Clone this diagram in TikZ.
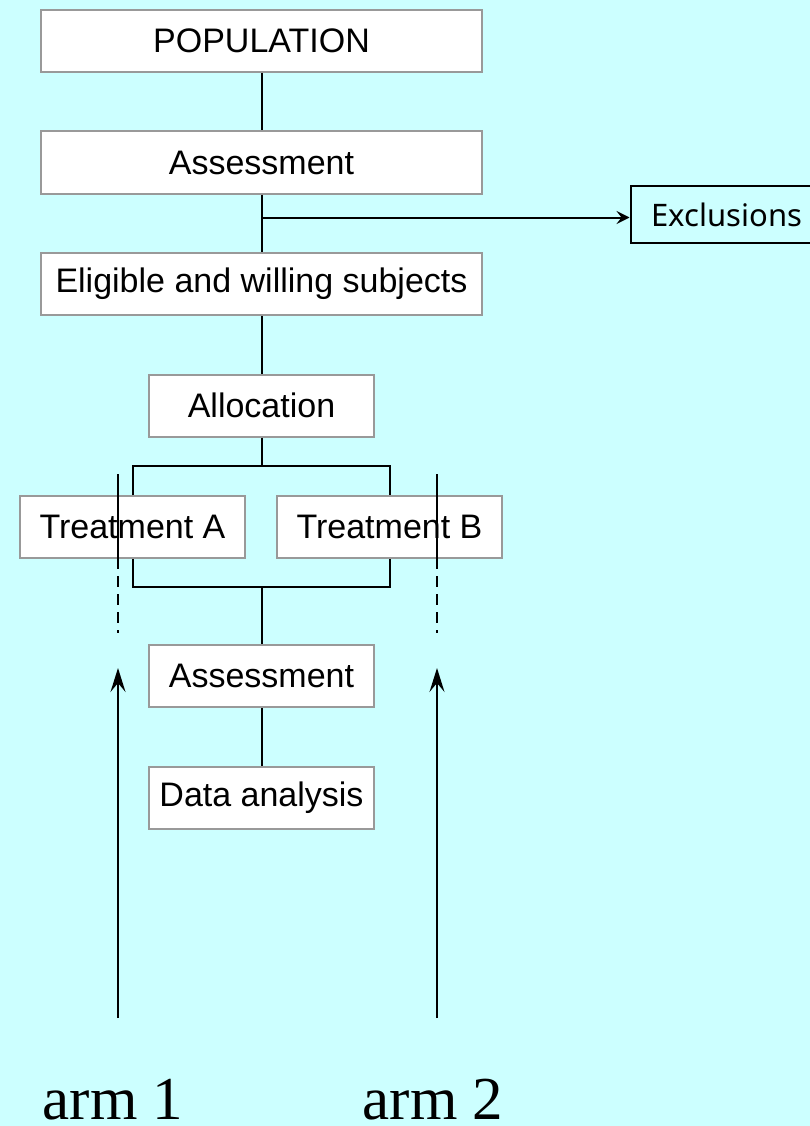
\documentclass[tikz,border=0pt]{standalone}
\usepackage{fontspec}
\setmainfont{Liberation Sans}
\newfontfamily\armfont{Liberation Serif}
\newfontfamily\exclfont{Noto Sans}
\usetikzlibrary{positioning, arrows.meta}
\definecolor{bgcyan}{RGB}{204,255,255}
\definecolor{boxgray}{RGB}{153,153,153}

\begin{document}
\begin{tikzpicture}[
        x=1pt, y=1pt,
        node distance=57.5pt and 30pt,
        every node/.style={font=\fontsize{34}{40}\selectfont},
        box/.style={draw=boxgray, fill=white, line width=2pt, rectangle, minimum height=62pt, minimum width=441pt, inner sep=0pt},
        smallbox/.style={box, minimum width=225pt},
        exclbox/.style={draw=black, line width=2pt, rectangle, minimum height=56pt, inner xsep=21pt, inner ysep=0pt, font=\exclfont\fontsize{31}{36}\selectfont},
        link/.style={line width=2pt},
        armtip/.style={-{Stealth[length=24pt, width=15pt, inset=9pt]}},
        armlabel/.style={font=\armfont\fontsize{61}{70}\selectfont, anchor=base, inner sep=0pt}
    ]
    \useasboundingbox[fill=bgcyan] (0,0) rectangle (810,-1126);

    \node[box] (population) at (261.5,-41) {POPULATION};
    \node[box, below=of population] (assess) {Assessment};
    \node[box, below=of assess] (eligible) {Eligible and willing subjects};
    \node[smallbox, below=of eligible] (allocation) {Allocation};

    \node[smallbox, below=of allocation, xshift=-129pt] (treatA) {Treatment A};
    \node[smallbox, below=of allocation, xshift=128pt] (treatB) {Treatment B};

    \coordinate[below=28pt of allocation] (forktop);
    \path (allocation.south |- treatA.south) ++(0,-28) coordinate (forkbottom);

    \node[smallbox, below=57pt of forkbottom] (assess2) {Assessment};
    \node[smallbox, below=of assess2] (analysis) {Data analysis};

    \coordinate[below=23pt of assess] (split);
    \node[exclbox, right=368pt of split, anchor=west, yshift=3pt] (exclusions) {Exclusions};

    \draw[link] (population) -- (assess);
    \draw[link] (assess) -- (eligible);
    \draw[link, -{Stealth[length=13pt, width=13pt, inset=5pt]}] (split) -- (exclusions.west |- split);
    \draw[link] (eligible) -- (allocation);
    \draw[link] (allocation) -- (forktop);
    \draw[link] (treatA.north) |- (forktop) -| (treatB.north);
    \draw[link] (treatA.south) |- (forkbottom) -| (treatB.south);
    \draw[link] (forkbottom) -- (assess2);
    \draw[link] (assess2) -- (analysis);

    \coordinate (arm1top) at (118,-474);
    \coordinate (arm1mid) at (118,-558);
    \coordinate (arm1end) at (118,-633);
    \coordinate (arm1tip) at (118,-668);
    \coordinate (arm1foot) at (118,-1018);
    \coordinate (arm2top) at (437,-474);
    \coordinate (arm2mid) at (437,-558);
    \coordinate (arm2end) at (437,-633);
    \coordinate (arm2tip) at (437,-668);
    \coordinate (arm2foot) at (437,-1018);

    \draw[link] (arm1top) -- (arm1mid);
    \draw[link, dash pattern=on 11pt off 7pt] (arm1mid) -- (arm1end);
    \draw[link, armtip] (arm1foot) -- (arm1tip);
    \draw[link] (arm2top) -- (arm2mid);
    \draw[link, dash pattern=on 11pt off 7pt] (arm2mid) -- (arm2end);
    \draw[link, armtip] (arm2foot) -- (arm2tip);

    \node[armlabel] (arm1) at (113,-1119) {arm 1};
    \node[armlabel] (arm2) at (433,-1119) {arm 2};

\end{tikzpicture}
\end{document}
